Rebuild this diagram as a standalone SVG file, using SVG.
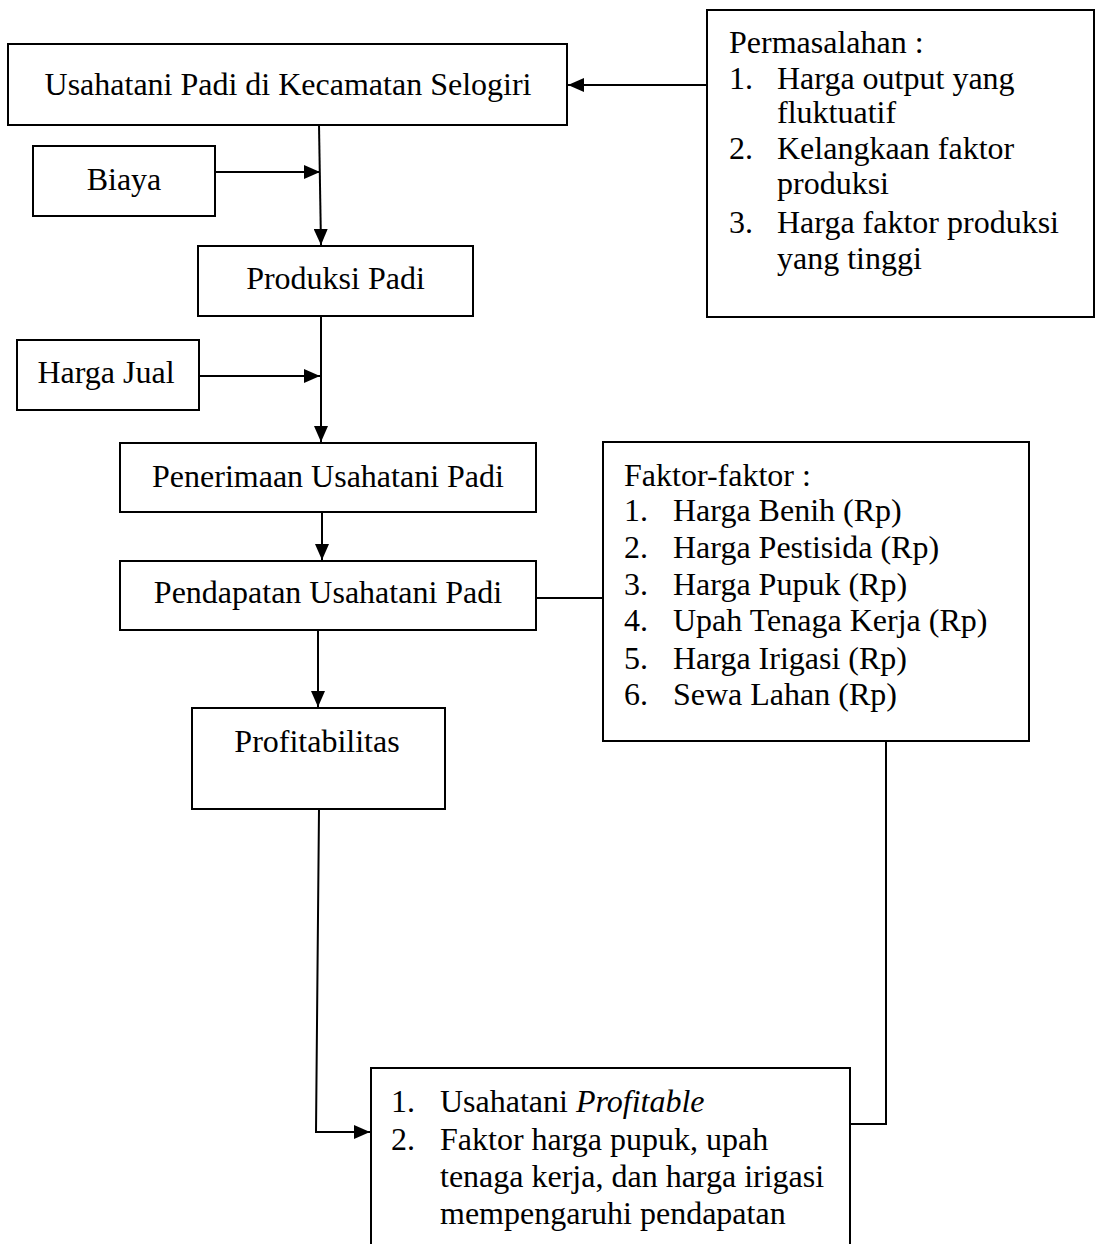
<svg xmlns="http://www.w3.org/2000/svg" width="1096" height="1244" viewBox="0 0 1096 1244">
  <style>
    .box { fill: #ffffff; stroke: #000000; stroke-width: 2; }
    .t { font-family: "Liberation Serif", "Times New Roman", serif; font-size: 32px; fill: #000000; }
    .c { text-anchor: middle; }
    .ln { fill: none; stroke: #000000; stroke-width: 2; }
  </style>
  <defs>
    <marker id="arr" markerUnits="userSpaceOnUse" markerWidth="16" markerHeight="14" refX="16" refY="7" orient="auto">
      <path d="M0,0 L16,7 L0,14 z" fill="#000000"/>
    </marker>
  </defs>
  <rect width="1096" height="1244" fill="#ffffff"/>

  <g id="connectors">
    <path class="ln" d="M707,85 H568" marker-end="url(#arr)"/>
    <path class="ln" d="M319,125 L321,245" marker-end="url(#arr)"/>
    <path class="ln" d="M215,172 H320" marker-end="url(#arr)"/>
    <path class="ln" d="M321,316 V442" marker-end="url(#arr)"/>
    <path class="ln" d="M199,376 H320" marker-end="url(#arr)"/>
    <path class="ln" d="M322,512 V560" marker-end="url(#arr)"/>
    <path class="ln" d="M318,630 V707" marker-end="url(#arr)"/>
    <path class="ln" d="M536,598 H603"/>
    <path class="ln" d="M319,809 L316,1132 H370" marker-end="url(#arr)"/>
    <path class="ln" d="M886,741 V1124 H834" marker-end="url(#arr)"/>
  </g>

  <g id="node-usahatani">
    <rect class="box" x="8" y="44" width="559" height="81"/>
    <text class="t c" x="288" y="95">Usahatani Padi di Kecamatan Selogiri</text>
  </g>

  <g id="node-permasalahan">
    <rect class="box" x="707" y="10" width="387" height="307"/>
    <text class="t" x="729" y="53">Permasalahan :</text>
    <text class="t" x="729" y="89">1.</text>
    <text class="t" x="777" y="89">Harga output yang</text>
    <text class="t" x="777" y="123">fluktuatif</text>
    <text class="t" x="729" y="159">2.</text>
    <text class="t" x="777" y="159">Kelangkaan faktor</text>
    <text class="t" x="777" y="194">produksi</text>
    <text class="t" x="729" y="233">3.</text>
    <text class="t" x="777" y="233">Harga faktor produksi</text>
    <text class="t" x="777" y="269">yang tinggi</text>
  </g>

  <g id="node-biaya">
    <rect class="box" x="33" y="146" width="182" height="70"/>
    <text class="t c" x="124" y="190">Biaya</text>
  </g>

  <g id="node-produksi">
    <rect class="box" x="198" y="246" width="275" height="70"/>
    <text class="t c" x="335.5" y="289">Produksi Padi</text>
  </g>

  <g id="node-hargajual">
    <rect class="box" x="17" y="340" width="182" height="70"/>
    <text class="t c" x="106" y="383">Harga Jual</text>
  </g>

  <g id="node-penerimaan">
    <rect class="box" x="120" y="443" width="416" height="69"/>
    <text class="t c" x="328" y="487">Penerimaan Usahatani Padi</text>
  </g>

  <g id="node-pendapatan">
    <rect class="box" x="120" y="561" width="416" height="69"/>
    <text class="t c" x="328" y="603">Pendapatan Usahatani Padi</text>
  </g>

  <g id="node-profitabilitas">
    <rect class="box" x="192" y="708" width="253" height="101"/>
    <text class="t c" x="317" y="752">Profitabilitas</text>
  </g>

  <g id="node-faktor">
    <rect class="box" x="603" y="442" width="426" height="299"/>
    <text class="t" x="624" y="486">Faktor-faktor :</text>
    <text class="t" x="624" y="521">1.</text>
    <text class="t" x="673" y="521">Harga Benih (Rp)</text>
    <text class="t" x="624" y="558">2.</text>
    <text class="t" x="673" y="558">Harga Pestisida (Rp)</text>
    <text class="t" x="624" y="595">3.</text>
    <text class="t" x="673" y="595">Harga Pupuk (Rp)</text>
    <text class="t" x="624" y="631">4.</text>
    <text class="t" x="673" y="631">Upah Tenaga Kerja (Rp)</text>
    <text class="t" x="624" y="669">5.</text>
    <text class="t" x="673" y="669">Harga Irigasi (Rp)</text>
    <text class="t" x="624" y="705">6.</text>
    <text class="t" x="673" y="705">Sewa Lahan (Rp)</text>
  </g>

  <g id="node-kesimpulan">
    <rect class="box" x="371" y="1068" width="479" height="200"/>
    <text class="t" x="391" y="1112">1.</text>
    <text class="t" x="440" y="1112">Usahatani <tspan font-style="italic">Profitable</tspan></text>
    <text class="t" x="391" y="1150">2.</text>
    <text class="t" x="440" y="1150">Faktor harga pupuk, upah</text>
    <text class="t" x="440" y="1187">tenaga kerja, dan harga irigasi</text>
    <text class="t" x="440" y="1224">mempengaruhi pendapatan</text>
  </g>
</svg>
